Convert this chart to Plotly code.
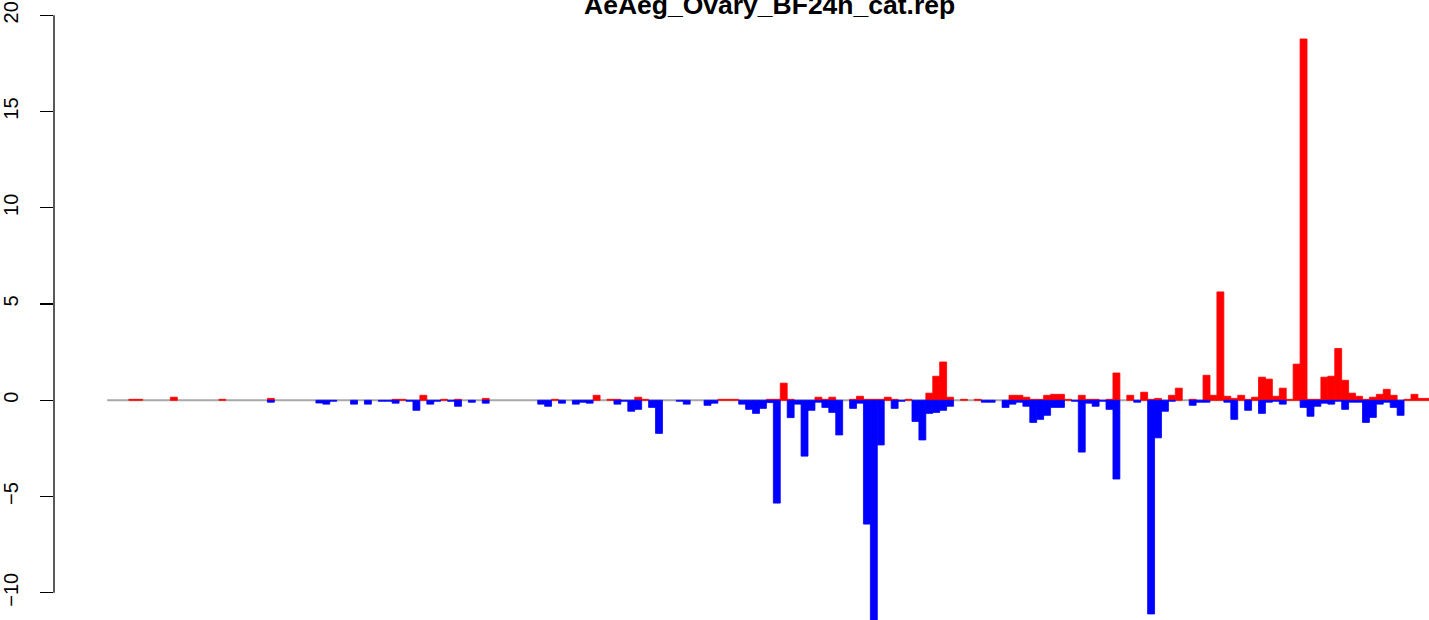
import plotly.graph_objects as go

# ---------------- data ----------------
title_text = "AeAeg_Ovary_BF24h_cat.rep"
n_bars = 188
positions = list(range(n_bars))

red_pairs = [
    (0, 0.05), (1, 0.05), (6, 0.16), (13, 0.05), (20, 0.1),
    (38, 0.05), (39, 0.05), (42, 0.26), (45, 0.05), (47, 0.05), (51, 0.1),
    (61, 0.05), (67, 0.26), (69, 0.05), (70, 0.05), (73, 0.16), (74, 0.05),
    (85, 0.05), (86, 0.05), (87, 0.05), (92, 0.05),
    (93, 0.05), (94, 0.89), (95, 0.05), (99, 0.16), (100, 0.05), (101, 0.16),
    (104, 0.05), (105, 0.21), (106, 0.05), (107, 0.05), (108, 0.05), (109, 0.16),
    (110, 0.05), (112, 0.05), (115, 0.37), (116, 1.25), (117, 1.99), (118, 0.16),
    (120, 0.05), (122, 0.05),
    (127, 0.26), (128, 0.26), (129, 0.16), (130, 0.05), (131, 0.05), (132, 0.26),
    (133, 0.31), (134, 0.31), (135, 0.05), (137, 0.26), (138, 0.05), (139, 0.05),
    (141, 0.05), (142, 1.42), (144, 0.26), (146, 0.42), (147, 0.05), (148, 0.1),
    (150, 0.26), (151, 0.63), (153, 0.05), (155, 1.3),
    (156, 0.26), (157, 5.63), (158, 0.21), (159, 0.1), (160, 0.26), (161, 0.05),
    (162, 0.16), (163, 1.2), (164, 1.1), (165, 0.21), (166, 0.63), (167, 0.05),
    (168, 1.88), (169, 18.77), (170, 0.05), (171, 0.05), (172, 1.2), (173, 1.25),
    (174, 2.69), (175, 1.04), (176, 0.37), (177, 0.21), (178, 0.05), (179, 0.16),
    (180, 0.31), (181, 0.57), (182, 0.26), (184, 0.05), (185, 0.31), (186, 0.1),
    (187, 0.1),
]

blue_pairs = [
    (20, -0.1), (27, -0.14), (28, -0.2), (29, -0.05), (32, -0.2), (34, -0.2),
    (36, -0.05), (37, -0.05), (38, -0.15), (40, -0.05), (41, -0.52), (43, -0.2),
    (44, -0.05), (46, -0.05), (47, -0.31), (49, -0.1), (51, -0.15), (59, -0.2),
    (60, -0.31),
    (62, -0.15), (64, -0.2), (65, -0.1), (66, -0.15), (70, -0.2), (71, -0.05),
    (72, -0.57), (73, -0.47), (75, -0.37), (76, -1.72), (79, -0.05), (80, -0.2),
    (83, -0.26), (84, -0.15), (88, -0.2), (89, -0.47), (90, -0.68), (91, -0.42),
    (92, -0.12),
    (93, -5.34), (95, -0.9), (96, -0.2), (97, -2.9), (98, -0.52), (99, -0.1),
    (100, -0.37), (101, -0.63), (102, -1.8), (104, -0.42), (105, -0.15),
    (106, -6.43), (107, -11.8), (108, -2.32), (110, -0.42), (111, -0.05),
    (113, -1.1), (114, -2.06), (115, -0.68), (116, -0.63), (117, -0.52),
    (118, -0.31), (123, -0.1), (124, -0.1),
    (126, -0.37), (127, -0.2), (128, -0.1), (129, -0.31), (130, -1.15),
    (131, -0.99), (132, -0.78), (133, -0.37), (134, -0.37), (136, -0.05),
    (137, -2.69), (138, -0.15), (139, -0.31), (140, -0.05), (141, -0.47),
    (142, -4.09), (145, -0.1), (147, -11.1), (148, -1.95), (149, -0.57),
    (150, -0.05), (153, -0.26), (154, -0.1), (155, -0.1),
    (158, -0.1), (159, -0.99), (161, -0.52), (163, -0.68), (164, -0.1),
    (165, -0.05), (166, -0.2), (169, -0.37), (170, -0.83), (171, -0.31),
    (172, -0.15), (173, -0.2), (174, -0.05), (175, -0.47), (176, -0.1),
    (177, -0.1), (178, -1.15), (179, -0.89), (180, -0.2), (181, -0.1),
    (182, -0.37), (183, -0.78),
]

tick_values = [-10, -5, 0, 5, 10, 15, 20]
tick_labels = ["\u221210", "\u22125", "0", "5", "10", "15", "20"]

red_values = [None] * n_bars
for k, v in red_pairs:
    red_values[k] = v
blue_values = [None] * n_bars
for k, v in blue_pairs:
    blue_values[k] = v

# ---------------- layout geometry ----------------
W, H = 1429, 620
left_px = 50
pitch = 6.951
first_bar_px = 125.0
zero_px = 400.3
unit_px = 19.25

x_min = (left_px - first_bar_px) / pitch - 0.5
x_max = (W - first_bar_px) / pitch - 0.5
y_max = zero_px / unit_px
y_min = -(H - zero_px) / unit_px
line_start = (103.3 - first_bar_px) / pitch - 0.5

fig = go.Figure()
fig.add_trace(go.Bar(x=positions, y=red_values, width=1.0,
                     marker=dict(color="#FF0000", line=dict(color="#FF0000", width=0.8)),
                     showlegend=False, hoverinfo="skip"))
fig.add_trace(go.Bar(x=positions, y=blue_values, width=1.0,
                     marker=dict(color="#0000FF", line=dict(color="#0000FF", width=0.8)),
                     showlegend=False, hoverinfo="skip"))

shapes = [
    dict(type="line", xref="x", yref="y", x0=line_start, x1=x_max + 5, y0=0, y1=0,
         line=dict(color="#A9A9A9", width=2), layer="below"),
    dict(type="line", xref="paper", yref="y", x0=0, x1=0,
         y0=tick_values[0], y1=tick_values[-1],
         line=dict(color="black", width=1.3), layer="above"),
]

fig.update_layout(
    width=W, height=H,
    margin=dict(l=left_px, r=0, t=0, b=0),
    paper_bgcolor="white", plot_bgcolor="white",
    barmode="overlay", bargap=0,
    shapes=shapes,
    xaxis=dict(range=[x_min, x_max], visible=False, showgrid=False, zeroline=False),
    yaxis=dict(range=[y_min, y_max], showgrid=False, zeroline=False, showline=False,
               tickmode="array", tickvals=tick_values, ticktext=tick_labels,
               ticks="outside", ticklen=13, tickwidth=1.3, tickcolor="black",
               tickangle=-90, ticklabelstandoff=14,
               tickfont=dict(family="Liberation Sans, Arial, sans-serif", size=20, color="black")),
    annotations=[dict(text="<b>" + title_text + "</b>", xref="paper", yref="paper",
                      x=(767.5 - left_px) / (W - left_px), y=1 - 22.0 / H,
                      xanchor="center", yanchor="bottom", showarrow=False,
                      font=dict(family="Liberation Sans, Arial, sans-serif", size=26.5, color="black"))],
)

fig.write_html(
    "out.html",
    config={"displayModeBar": False, "staticPlot": True},
    post_script="document.body.style.margin='0';document.body.style.padding='0';"
                "document.body.style.overflow='hidden';",
)
